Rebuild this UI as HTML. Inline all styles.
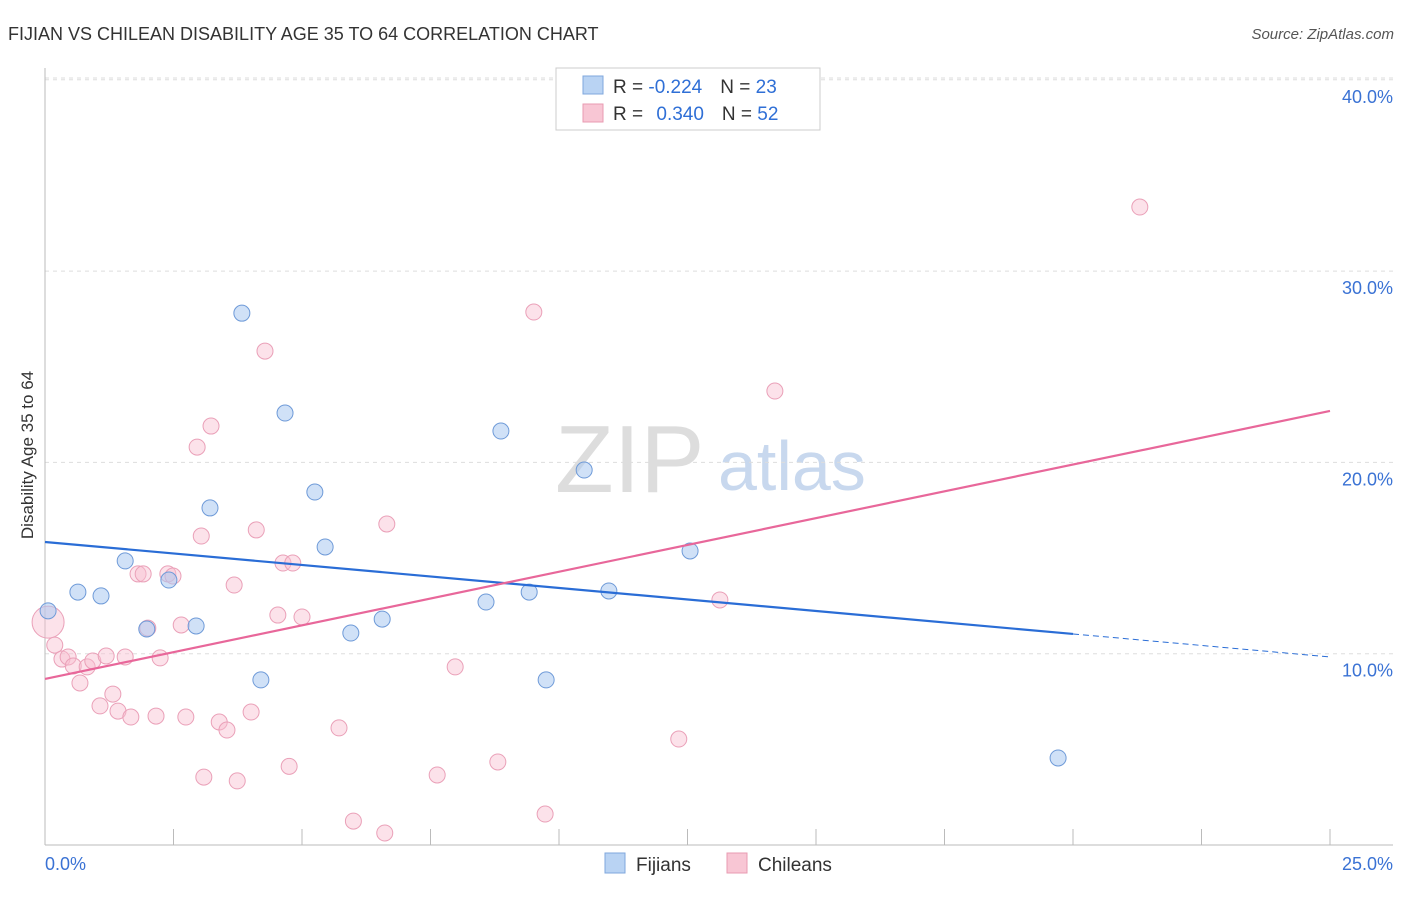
<!DOCTYPE html>
<html><head><meta charset="utf-8"><style>
body{margin:0;background:#fff;font-family:"Liberation Sans",sans-serif;}
svg text{font-family:"Liberation Sans",sans-serif;}
</style></head><body>
<svg id="c" width="1406" height="892">
<text x="8" y="40" font-size="18" fill="#333">FIJIAN VS CHILEAN DISABILITY AGE 35 TO 64 CORRELATION CHART</text>
<text x="1394" y="39" font-size="15" fill="#555" font-style="italic" text-anchor="end">Source: ZipAtlas.com</text>
<text transform="translate(33,455) rotate(-90)" font-size="17" fill="#333" text-anchor="middle">Disability Age 35 to 64</text>
<text x="555" y="492" font-size="96" fill="#ddd" font-family="Liberation Serif">ZIP</text>
<text x="718" y="490" font-size="70" fill="#c8d8ee">atlas</text>
<g id="grid"></g><g id="axes"></g><g id="pts"></g><g id="lines"></g>
<g>
<rect x="556" y="68" width="264" height="62" fill="#fff" stroke="#ccc"/>
<rect x="583" y="76" width="20" height="18" fill="#b9d3f3" stroke="#7fa7dd"/>
<rect x="583" y="104" width="20" height="18" fill="#f8c6d4" stroke="#e89bb2"/>
<text x="613" y="93" font-size="19" fill="#333">R = <tspan fill="#2f6fd6">-0.224</tspan><tspan dx="18">N = </tspan><tspan fill="#2f6fd6">23</tspan></text>
<text x="613" y="120" font-size="19" fill="#333">R = <tspan fill="#2f6fd6" dx="8">0.340</tspan><tspan dx="18">N = </tspan><tspan fill="#2f6fd6">52</tspan></text>
</g>
<g>
<rect x="605" y="853" width="20" height="20" fill="#b9d3f3" stroke="#7fa7dd"/>
<text x="636" y="871" font-size="19" fill="#333">Fijians</text>
<rect x="727" y="853" width="20" height="20" fill="#f8c6d4" stroke="#e89bb2"/>
<text x="758" y="871" font-size="19" fill="#333">Chileans</text>
</g>
</svg>
<script>
const yTicks=[10,20,30,40];
const yTickLabels=["10.0%","20.0%","30.0%","40.0%"];
const xTickLabels=["0.0%","25.0%"];
const fijX=[0.06,0.64,1.09,1.56,1.98,2.41,2.94,3.21,3.83,4.2,4.67,5.25,5.45,5.95,6.56,8.58,8.87,9.42,9.75,10.49,10.97,12.55,19.71];
const fijY=[12.24,13.22,13.02,14.85,11.29,13.85,11.45,17.62,27.8,8.63,22.58,18.45,15.58,11.08,11.81,12.7,21.64,13.22,8.63,19.6,13.28,15.37,4.55];
const chiX=[0.06,0.19,0.33,0.45,0.55,0.68,0.82,0.93,1.07,1.19,1.32,1.42,1.56,1.67,1.81,1.91,2.0,2.16,2.24,2.39,2.49,2.65,2.74,2.96,3.04,3.09,3.23,3.39,3.54,3.68,3.74,4.01,4.11,4.28,4.53,4.63,4.75,4.82,5.0,5.72,6.0,6.61,6.65,7.63,7.98,8.81,9.51,9.73,12.33,13.13,14.2,21.3];
const chiY=[11.65,10.45,9.72,9.83,9.36,8.47,9.31,9.62,7.27,9.88,7.89,7.0,9.83,6.69,14.17,14.17,11.34,6.74,9.78,14.17,14.06,11.5,6.69,20.8,16.15,3.55,21.9,6.43,6.01,13.59,3.35,6.95,16.47,25.82,12.02,14.74,4.11,14.74,11.92,6.12,1.25,0.63,16.78,3.66,9.31,4.34,27.86,1.62,5.54,12.81,23.73,33.35];
const blueLine=[15.84,9.83], pinkLine=[8.68,22.69];
const X=v=>45+v*51.4, Y=v=>845-v*19.13;
const NS="http://www.w3.org/2000/svg";
function mk(t,a,p){const e=document.createElementNS(NS,t);for(const k in a)e.setAttribute(k,a[k]);document.getElementById(p).appendChild(e);return e;}
let l=mk('line',{x1:45,x2:1393,y1:78,y2:78,stroke:"#ddd","stroke-dasharray":"4,4"},'grid');


yTicks.forEach((v,i)=>{
 const g=mk('line',{x1:45,x2:1393,y1:Y(v),y2:Y(v),stroke:"#ddd","stroke-dasharray":"4,4"},'grid');
 
 
 const t=mk('text',{x:1393,y:Y(v)+23,"font-size":18,fill:"#3a72d4","text-anchor":"end"},'grid');t.textContent=yTickLabels[i];
 
 
});
let a=mk('line',{x1:45,x2:45,y1:68,y2:845,stroke:"#bbb"},'axes');


a=mk('line',{x1:45,x2:1393,y1:845,y2:845,stroke:"#bbb"},'axes');


for(let i=0;i<=10;i++){const tk=mk('line',{x1:X(i*2.5),x2:X(i*2.5),y1:829,y2:845,stroke:"#bbb"},'axes');
 
 }
[[0,45,"start"],[25,1393,"end"]].forEach((d,i)=>{const t=mk('text',{x:d[1],y:870,"font-size":18,fill:"#3a72d4","text-anchor":d[2]},'axes');t.textContent=xTickLabels[i];
 
 });
chiX.forEach((x,i)=>{const c=mk('circle',{cx:X(x),cy:Y(chiY[i]),r:i==0?16:8,fill:"rgba(248,190,208,0.45)",stroke:"#eaa0b8","stroke-width":1},'pts');
 
 });
fijX.forEach((x,i)=>{const c=mk('circle',{cx:X(x),cy:Y(fijY[i]),r:8,fill:"rgba(170,200,240,0.55)",stroke:"#6e9ad8","stroke-width":1},'pts');
 
 });
const bAt=x=>blueLine[0]+(blueLine[1]-blueLine[0])*x/25;
let t1=mk('line',{x1:X(0),y1:Y(bAt(0)),x2:X(20),y2:Y(bAt(20)),stroke:"#2a6dd6","stroke-width":2.2},'lines');


let t2=mk('line',{x1:X(20),y1:Y(bAt(20)),x2:X(25),y2:Y(bAt(25)),stroke:"#2a6dd6","stroke-width":1,"stroke-dasharray":"6,4"},'lines');


let t3=mk('line',{x1:X(0),y1:Y(pinkLine[0]),x2:X(25),y2:Y(pinkLine[1]),stroke:"#e8679a","stroke-width":2.2},'lines');


</script>
</body></html>
